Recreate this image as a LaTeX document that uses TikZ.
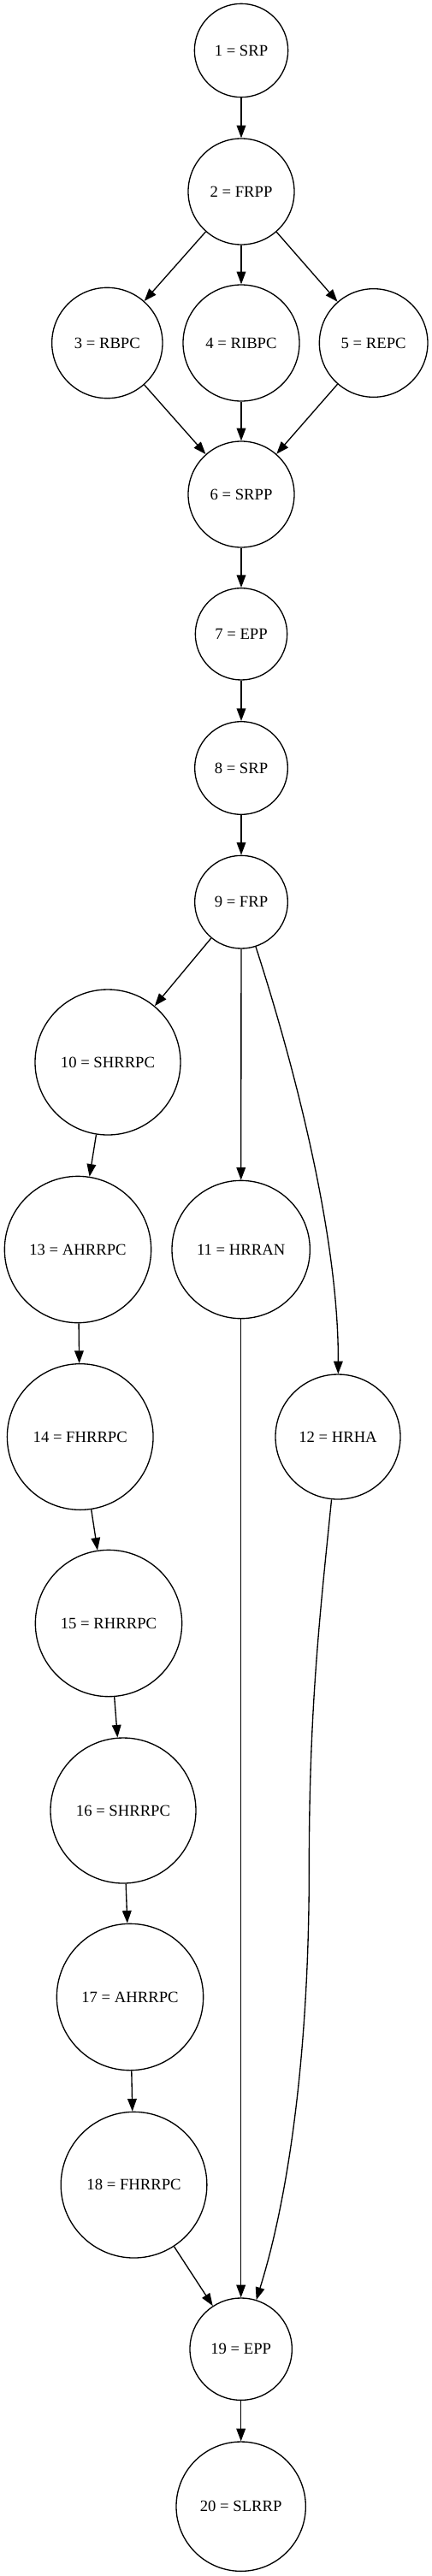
\documentclass[tikz,border=0pt]{standalone}
\usepackage{fontspec}
\setmainfont{Liberation Serif}
\usetikzlibrary{arrows.meta}

\tikzset{
  state/.style={circle, draw, line width=1pt, inner sep=0pt,
    font=\fontsize{14}{16.8}\selectfont},
  edge/.style={line width=1pt, -{Triangle[length=11pt,width=8pt]}}
}

\begin{document}
\begin{tikzpicture}[x=1pt, y=-1pt]
  \useasboundingbox (0, 0) rectangle (378.75, 2259);

  % main column
  \node[state, minimum size=82pt] (n1) at (211.5, 44.25) {1 = SRP};
  \node[state, minimum size=93pt] (n2) at (211.5, 168) {2 = FRPP};
  \node[state, minimum size=97pt] (n3) at (94, 300.75) {3 = RBPC};
  \node[state, minimum size=102pt] (n4) at (211.5, 300.75) {4 = RIBPC};
  \node[state, minimum size=95pt] (n5) at (327.5, 300.75) {5 = REPC};
  \node[state, minimum size=93pt] (n6) at (211.5, 433.5) {6 = SRPP};
  \node[state, minimum size=80.5pt] (n7) at (211.5, 556) {7 = EPP};
  \node[state, minimum size=81.5pt] (n8) at (211.5, 673.5) {8 = SRP};
  \node[state, minimum size=81.5pt] (n9) at (211.5, 791) {9 = FRP};

  % branches
  \node[state, minimum size=127.5pt] (n10) at (94.5, 931.5) {10 = SHRRPC};
  \node[state, minimum size=121pt] (n11) at (211.25, 1095.75) {11 = HRRAN};
  \node[state, minimum size=109.5pt] (n12) at (296.25, 1260) {12 = HRHA};
  \node[state, minimum size=128.5pt] (n13) at (68.25, 1095.75) {13 = AHRRPC};
  \node[state, minimum size=128pt] (n14) at (70.3, 1260) {14 = FHRRPC};
  \node[state, minimum size=128.5pt] (n15) at (95.25, 1423.5) {15 = RHRRPC};
  \node[state, minimum size=127.5pt] (n16) at (108, 1587.75) {16 = SHRRPC};
  \node[state, minimum size=128.5pt] (n17) at (114, 1751.25) {17 = AHRRPC};
  \node[state, minimum size=128pt] (n18) at (117.4, 1916) {18 = FHRRPC};
  \node[state, minimum size=89.5pt] (n19) at (211.25, 2060) {19 = EPP};
  \node[state, minimum size=113.5pt] (n20) at (211.25, 2198) {20 = SLRRP};

  \foreach \a/\b in {n1/n2, n2/n3, n2/n4, n2/n5, n3/n6, n4/n6, n5/n6,
      n6/n7, n7/n8, n8/n9, n9/n10, n9/n11, n10/n13, n13/n14, n14/n15,
      n15/n16, n16/n17, n17/n18, n18/n19, n11/n19, n19/n20} {
   \draw[edge] (\a) -- (\b);
  }

  % curved edges
  \draw[edge] (n9) .. controls (255, 925) and (297, 1080) .. (n12);
  \draw[edge] (n12) .. controls (280, 1420) and (271, 1500) .. (271, 1640)
    .. controls (271, 1790) and (255, 1920) .. (n19);
\end{tikzpicture}
\end{document}
